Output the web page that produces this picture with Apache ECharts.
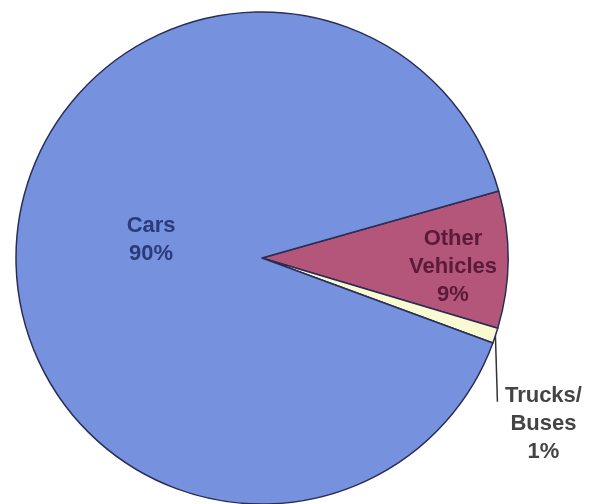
<!DOCTYPE html>
<html>
<head>
<meta charset="utf-8">
<script src="https://cdn.jsdelivr.net/npm/echarts@6/dist/echarts.min.js"></script>
<style>
  html, body { margin: 0; padding: 0; background: #fff; }
  #chart { width: 596px; height: 504px; }
</style>
</head>
<body>
<div id="chart"></div>
<script>
  // 数据
  var categories = ['Other\nVehicles', 'Trucks/\nBuses', 'Cars'];
  var shares = [9, 1, 90];
  var sliceColors = ['#b3567a', '#fafad2', '#7692de'];
  var labelColors = ['#5a1a38', '#444444', '#2b3a7a'];

  var chart = echarts.init(document.getElementById('chart'));

  var pieData = categories.map(function (name, i) {
    return {
      name: name,
      value: shares[i],
      itemStyle: { color: sliceColors[i] },
      label: {
        position: i === 1 ? 'outside' : 'inside',
        color: labelColors[i]
      },
      labelLine: { show: i === 1 }
    };
  });

  chart.setOption({
    animation: false,
    series: [{
      type: 'pie',
      center: [262, 258],
      radius: 246,
      startAngle: 15.8,
      clockwise: true,
      avoidLabelOverlap: false,
      data: pieData,
      itemStyle: {
        borderColor: '#2a2d55',
        borderWidth: 1.5
      },
      label: {
        formatter: function (p) { return p.name + '\n' + p.value + '%'; },
        fontFamily: 'Liberation Sans, Arial, sans-serif',
        fontWeight: 'bold',
        fontSize: 22,
        lineHeight: 28,
        align: 'center'
      },
      labelLine: {
        lineStyle: { color: '#333', width: 1.5 }
      },
      emphasis: { disabled: true },
      labelLayout: function (params) {
        if (params.dataIndex === 1) {
          var p = params.labelLinePoints[0];
          var end = [p[0] + 2, p[1] + 66];
          return {
            x: p[0] + 48,
            y: p[1] + 88,
            align: 'center',
            verticalAlign: 'middle',
            labelLinePoints: [p, end, end]
          };
        }
        if (params.dataIndex === 0) {
          return { dx: 65, dy: 8 };
        }
        return { dx: 15, dy: -13 };
      }
    }]
  });
</script>
</body>
</html>
